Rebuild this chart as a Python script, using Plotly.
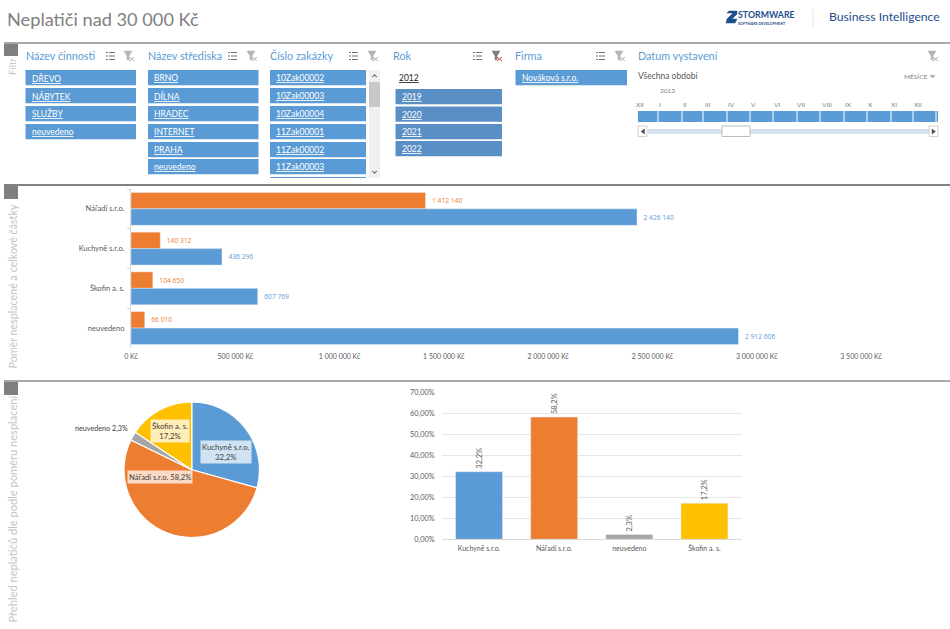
import plotly.graph_objects as go

# ---- data ----
firms = ["Nářadí s.r.o.", "Kuchyně s.r.o.", "Škofin a. s.", "neuvedeno"]
unpaid = [1412140, 140312, 104650, 66010]
total = [2426140, 436296, 607769, 2912606]
unpaid_labels = ["1 412 140", "140 312", "104 650", "66 010"]
total_labels = ["2 426 140", "436 296", "607 769", "2 912 606"]
amount_ticks = [0, 500000, 1000000, 1500000, 2000000, 2500000, 3000000, 3500000]
amount_tick_labels = ["0 Kč", "500 000 Kč", "1 000 000 Kč", "1 500 000 Kč", "2 000 000 Kč",
                      "2 500 000 Kč", "3 000 000 Kč", "3 500 000 Kč"]

ratio_firms = ["Kuchyně s.r.o.", "Nářadí s.r.o.", "neuvedeno", "Škofin a. s."]
ratio_values = [32.2, 58.2, 2.3, 17.2]
ratio_labels = ["32,2%", "58,2%", "2,3%", "17,2%"]
pct_ticks = [0, 10, 20, 30, 40, 50, 60, 70]
pct_tick_labels = ["0,00%", "10,00%", "20,00%", "30,00%", "40,00%", "50,00%", "60,00%", "70,00%"]

activities = ["DŘEVO", "NÁBYTEK", "SLUŽBY", "neuvedeno"]
centres = ["BRNO", "DÍLNA", "HRADEC", "INTERNET", "PRAHA", "neuvedeno"]
orders = ["10Zak00002", "10Zak00003", "10Zak00004", "11Zak00001", "11Zak00002", "11Zak00003"]
years = ["2019", "2020", "2021", "2022"]
companies = ["Nováková s.r.o."]
months = ["XII", "I", "II", "III", "IV", "V", "VI", "VII", "VIII", "IX", "X", "XI", "XII"]

# ---- style ----
W, H = 950, 629
FONT = "Lato"
BLUE, ORANGE, GREY, GOLD = "#5b9bd5", "#ed7d31", "#a5a5a5", "#ffc000"
def X(p): return p / W
def Y(p): return 1 - p / H

shapes, notes = [], []
def rect(x0, y0, x1, y1, fill, line=None, lw=0):
    shapes.append(dict(type="rect", xref="paper", yref="paper", x0=X(x0), x1=X(x1), y0=Y(y0), y1=Y(y1),
                       fillcolor=fill, line=dict(color=line or fill, width=lw), layer="above"))
def hline(x0, y0, x1, y1, color, w=1):
    shapes.append(dict(type="line", xref="paper", yref="paper", x0=X(x0), x1=X(x1), y0=Y(y0), y1=Y(y1),
                       line=dict(color=color, width=w), layer="above"))
def poly(pts, color):
    path = "M " + " L ".join(f"{X(a):.5f},{Y(b):.5f}" for a, b in pts) + " Z"
    shapes.append(dict(type="path", xref="paper", yref="paper", path=path, fillcolor=color,
                       line=dict(color=color, width=0.5), layer="above"))
def text(x, y, s, size=9, color="#595959", anchor="left", angle=0, bg=None, family=FONT):
    if anchor == "left":
        x -= 2  # annotation box padding
    notes.append(dict(xref="paper", yref="paper", x=X(x), y=Y(y), text=s, showarrow=False,
                      xanchor=anchor, yanchor="middle", textangle=angle,
                      font=dict(family=family, size=size, color=color), bgcolor=bg,
                      borderpad=1))
def icon_multi(x, y=56):
    for dy in (-3.5, 0, 3.5):
        hline(x - 4, y + dy, x - 2, y + dy, "#707070", 1)
        hline(x - 1, y + dy, x + 5, y + dy, "#707070", 1)
def icon_filter(x, active=False, y=56):
    c = "#7f7f7f" if active else "#b5b5b5"
    poly([(x - 5, y - 5), (x + 3, y - 5), (x, y), (x, y + 4), (x - 2, y + 4), (x - 2, y)], c)
    xc = "#d04a35" if active else "#b5b5b5"
    hline(x, y + 1, x + 5, y + 5, xc, 1)
    hline(x + 5, y + 1, x, y + 5, xc, 1)

# ---- frame ----
text(7, 19, "Neplatiči nad 30 000 Kč", 18.2, "#808080")
for yy, col, top, bot in [(43, "#8c8c8c", 44, 56), (185, "#595959", 186, 199), (381, "#8c8c8c", 382, 395)]:
    hline(4, yy, 950, yy, col, 1.5)
    rect(4, top, 18, bot, "#7f7f7f")
text(12, 67, "Filtr", 9.5, "#c4c4c4", "center", -90)
text(12, 286.5, "Poměr nesplacené a celkové částky", 10.7, "#c4c4c4", "center", -90)
text(12, 509.5, "Přehled neplatičů dle podle poměru nesplacení", 11.1, "#c4c4c4", "center", -90)

# logo
poly([(727, 19), (733, 13), (727, 13), (729, 11), (737, 11), (737, 14), (732, 19), (737, 19), (735, 23), (726, 23)], "#1f4e8c")
text(738, 14.5, "<b>STORMWARE</b>", 8.8, "#1f4e8c")
text(738, 23.5, "<b>SOFTWARE DEVELOPMENT</b>", 3.6, "#1f4e8c")
hline(813, 9, 813, 27, "#e3e3e3", 1)
text(829, 17, "Business Intelligence", 12.2, "#1f4e8c")

# ---- slicers ----
for x, s in [(26, "Název činnosti"), (148, "Název střediska"), (270, "Číslo zakázky"),
             (393, "Rok"), (515, "Firma"), (638, "Datum vystavení")]:
    text(x, 56, s, 10.8, BLUE)
for x in (110, 232, 353, 477, 600):
    icon_multi(x)
for x, act in [(129, False), (252, False), (373, False), (497, True), (620, False), (933, False)]:
    icon_filter(x, act)

ROWS = [70, 88, 106, 124, 142, 159]
def slicer(items, x0, x1, rows=ROWS, fill=BLUE):
    for it, r in zip(items, rows):
        rect(x0, r, x1, r + 15.3, fill)
        text(x0 + 6, r + 8, f"<u>{it}</u>", 8.5, "#ffffff")
slicer(activities, 25.5, 136)
slicer(centres, 148, 258.5)
slicer(orders, 270, 366)
rect(270, 177, 366, 178, BLUE)
rect(369, 70, 380, 178, "#f0f0f0")
rect(369, 82, 380, 107, "#c8c8c8")
poly([(372, 77), (374.5, 74.5), (377, 77), (374.5, 75.5)], "#505050")
poly([(372, 171), (374.5, 173.5), (377, 171), (374.5, 172.5)], "#505050")

text(399, 78, "<u>2012</u>", 8.5, "#262626")
slicer(years, 395.5, 502, [89, 106.5, 124, 141], "#5a8fc5")
slicer(companies, 515.5, 627)

# ---- timeline ----
text(638, 76, "Všechna období", 8.5, "#595959")
text(904, 76, "MĚSÍCE", 6.5, "#7f7f7f")
poly([(930, 75.5), (935, 75.5), (932.5, 78)], "#a0a0a0")
text(660, 91, "2013", 6.5, "#7f7f7f")
for x, m in zip([640, 660, 685, 708, 731, 753, 777, 801, 827, 848, 870, 894, 918], months):
    text(x, 104, m, 6.5, "#7f7f7f", "center")
rect(638, 111, 938, 122, BLUE)
for x in (658, 682, 703, 727, 750, 773, 797, 820, 844, 867, 891, 913, 936):
    hline(x, 111, x, 122, "#ffffff", 1)
rect(648, 129, 929, 134, "#d6e4f2")
rect(722, 126, 750, 136.5, "#ffffff", "#bdbdbd", 1)
rect(638, 126, 647, 136.5, "#ffffff", "#d0d0d0", 1)
rect(929, 126, 938, 136.5, "#ffffff", "#d0d0d0", 1)
poly([(644.5, 129), (644.5, 134), (641, 131.5)], "#505050")
poly([(932, 129), (932, 134), (935.5, 131.5)], "#505050")

# ---- pie labels ----
text(225.5, 452, "Kuchyně s.r.o.<br>32,2%", 7.8, "#404040", "center", bg="rgba(255,255,255,0.72)")
text(170, 431, "Škofin a. s.<br>17,2%", 7.8, "#404040", "center", bg="rgba(255,255,255,0.72)")
text(160, 477, "Nářadí s.r.o. 58,2%", 7.6, "#404040", "center", bg="rgba(255,255,255,0.72)")
text(101, 428, "neuvedeno 2,3%", 7.2, "#404040", "center")

fig = go.Figure()
# ---- horizontal bars ----
fig.add_bar(y=firms, x=unpaid, orientation="h", marker_color=ORANGE, text=unpaid_labels,
            texttemplate="\u00a0\u00a0%{text}",
            textposition="outside", textfont=dict(size=6.7, color=ORANGE, family="Open Sans"),
            cliponaxis=False, xaxis="x", yaxis="y", showlegend=False)
fig.add_bar(y=firms, x=total, orientation="h", marker_color=BLUE, text=total_labels,
            texttemplate="\u00a0\u00a0%{text}",
            textposition="outside", textfont=dict(size=6.7, color=BLUE, family="Open Sans"),
            cliponaxis=False, xaxis="x", yaxis="y", showlegend=False)
# ---- pie ----
fig.add_pie(labels=ratio_firms, values=ratio_values, sort=False, direction="clockwise", rotation=0,
            marker=dict(colors=[BLUE, ORANGE, GREY, GOLD], line=dict(color="#ffffff", width=1.2)),
            textinfo="none", showlegend=False,
            domain=dict(x=[X(124), X(259.5)], y=[Y(537.5), Y(402)]))
# ---- columns ----
fig.add_bar(x=ratio_firms, y=ratio_values, marker_color=[BLUE, ORANGE, GREY, GOLD], text=ratio_labels,
            textposition="outside", textangle=-90, textfont=dict(size=7.5, color="#595959", family=FONT),
            cliponaxis=False, xaxis="x2", yaxis="y2", showlegend=False)

TICK = dict(size=7, color="#595959", family=FONT)
fig.update_layout(
    width=W, height=H, autosize=False, margin=dict(l=0, r=0, t=0, b=0),
    paper_bgcolor="#ffffff", plot_bgcolor="#ffffff", barmode="group", bargap=0.17, bargroupgap=0,
    font=dict(family=FONT, size=7, color="#595959"),
    shapes=shapes, annotations=notes,
    xaxis=dict(domain=[X(131), X(861)], range=[0, 3500000], tickvals=amount_ticks, ticktext=amount_tick_labels,
               showgrid=False, zeroline=False, showline=False, ticks="", anchor="y",
               ticklabelstandoff=3, tickfont=TICK, automargin=False),
    yaxis=dict(domain=[Y(348), Y(189)], autorange="reversed", type="category", showgrid=False,
               showline=True, linecolor="#d9d9d9", ticks="outside", tickson="boundaries", ticklen=3,
               tickcolor="#d9d9d9", tickfont=dict(size=7.5, color="#595959", family=FONT), anchor="x",
               ticklabelstandoff=4, automargin=False),
    xaxis2=dict(domain=[X(441.5), X(742)], type="category", anchor="y2", showgrid=False, showline=True,
                linecolor="#d9d9d9", ticks="", tickfont=TICK, ticklabelstandoff=2, automargin=False),
    yaxis2=dict(domain=[Y(539.3), Y(392.3)], range=[0, 70], tickvals=pct_ticks, ticktext=pct_tick_labels,
                anchor="x2", showgrid=True, gridcolor="#e6e6e6", zeroline=False, showline=False, ticks="",
                tickfont=dict(size=7.3, color="#595959", family=FONT), ticklabelstandoff=6, automargin=False),
)
fig.update_traces(selector=dict(xaxis="x2"), width=0.625)
fig.write_html("out.html", config={"displayModeBar": False},
               post_script="document.body.style.margin='0';document.body.style.overflow='hidden';")
